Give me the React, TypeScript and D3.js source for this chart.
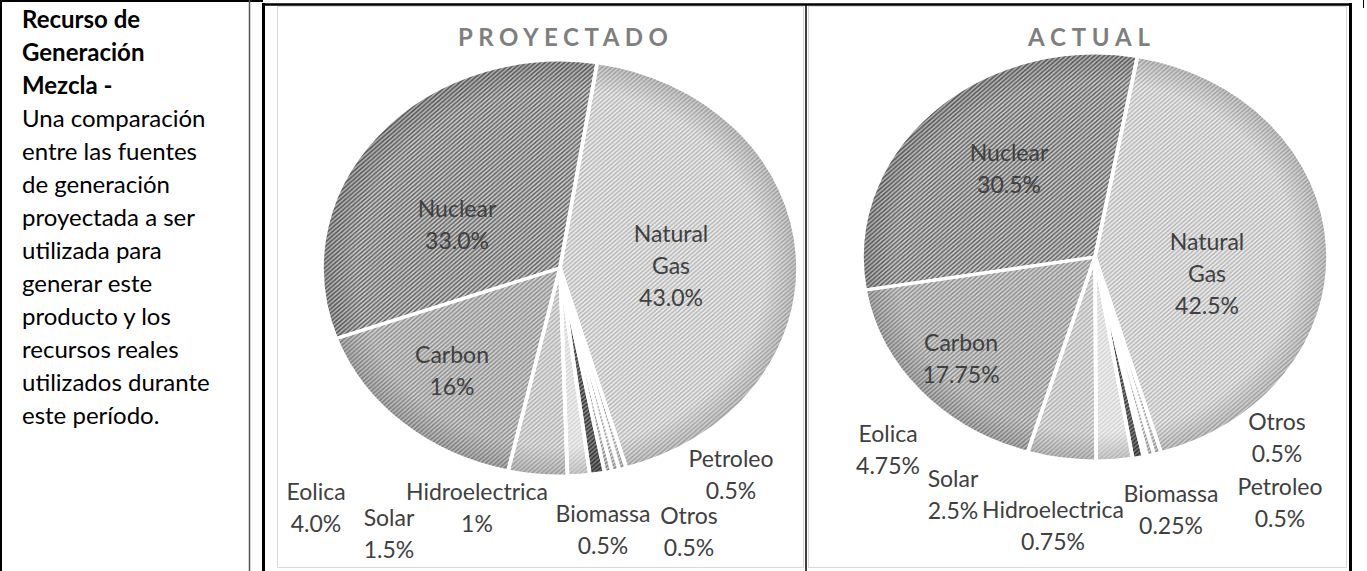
import * as d3 from 'd3'

// left column text
const headingLines = ['Recurso de', 'Generación', 'Mezcla -']
const bodyLines = [
  'Una comparación',
  'entre las fuentes',
  'de generación',
  'proyectada a ser',
  'utilizada para',
  'generar este',
  'producto y los',
  'recursos reales',
  'utilizados durante',
  'este período.',
]

// PROYECTADO
const projCategories = ['Natural Gas', 'Petroleo', 'Otros', 'Biomassa', 'Hidroelectrica', 'Solar', 'Eolica', 'Carbon', 'Nuclear']
const projValues = [43.0, 0.5, 0.5, 0.5, 1, 1.5, 4.0, 16, 33.0]
const projLabels = ['43.0%', '0.5%', '0.5%', '0.5%', '1%', '1.5%', '4.0%', '16%', '33.0%']

// ACTUAL
const actCategories = ['Natural Gas', 'Otros', 'Petroleo', 'Biomassa', 'Hidroelectrica', 'Solar', 'Eolica', 'Carbon', 'Nuclear']
const actValues = [42.5, 0.5, 0.5, 0.25, 0.75, 2.5, 4.75, 17.75, 30.5]
const actLabels = ['42.5%', '0.5%', '0.5%', '0.25%', '0.75%', '2.5%', '4.75%', '17.75%', '30.5%']

// pattern fills (background, stripe) per source
const fills = {
  'Natural Gas': ['#efefef', '#b4b4b4'],
  Petroleo: ['#f4f4f4', '#9a9a9a'],
  Otros: ['#f4f4f4', '#9a9a9a'],
  Biomassa: ['#eeeeee', '#8a8a8a'],
  Hidroelectrica: ['#8a8a8a', '#333333'],
  Solar: ['#f2f2f2', '#d2d2d2'],
  Eolica: ['#e6e6e6', '#b0b0b0'],
  Carbon: ['#d6d6d6', '#8c8c8c'],
  Nuclear: ['#cfcfcf', '#606060'],
}

// label placement relative to the pie centre: [centre x, first baseline]
const projLabelPos = {
  'Natural Gas': [111, -26], Petroleo: [171, 199], Otros: [129, 256], Biomassa: [43, 254],
  Hidroelectrica: [-83, 232], Solar: [-171, 258], Eolica: [-244, 232], Carbon: [-108, 95], Nuclear: [-103, -51],
}
const actLabelPos = {
  'Natural Gas': [112, -7], Otros: [182, 173], Petroleo: [185, 238], Biomassa: [76, 245],
  Hidroelectrica: [-42, 261], Solar: [-142, 230], Eolica: [-207, 185], Carbon: [-134, 94], Nuclear: [-86, -96],
}

const font = 'Lato, "Open Sans", sans-serif'
const labelColor = '#404040'

function Pie({ id, categories, values, labels, labelPos, cx, cy, r, sx, startDeg, title, titleX0, titleX1 }) {
  const start = (startDeg * Math.PI) / 180
  const pie = d3.pie().sort(null).value(d => d.value).startAngle(start).endAngle(start + 2 * Math.PI)
  const arcs = pie(categories.map((c, i) => ({ name: c, value: values[i], label: labels[i] })))
  const arc = d3.arc().innerRadius(0).outerRadius(r)
  const lh = 32

  return (
    <g>
      <text
        x={titleX0}
        y={46}
        textLength={titleX1 - titleX0}
        lengthAdjust="spacing"
        fontFamily={font}
        fontWeight="bold"
        fontSize={24}
        fill="#7f7f7f"
      >
        {title}
      </text>
      <g transform={`translate(${cx},${cy}) scale(${sx},1)`}>
        {arcs.map(a => (
          <path key={a.data.name} d={arc(a)} fill={`url(#${id}-pat-${categories.indexOf(a.data.name)})`} />
        ))}
        <circle r={r} fill={`url(#${id}-edge)`} />
        {arcs.map(a => (
          <path key={a.data.name + 'o'} d={arc(a)} fill="none" stroke="#fff" strokeWidth={3.2} strokeLinejoin="round" />
        ))}
      </g>
      <g transform={`translate(${cx},${cy})`} fontFamily={font} fontSize={23} fill={labelColor} textAnchor="middle">
        {arcs.map(a => {
          const lines = a.data.value >= 10 ? [...a.data.name.split(' '), a.data.label] : [a.data.name, a.data.label]
          const [px, py] = labelPos[a.data.name]
          return (
            <text key={a.data.name + 'l'} x={px} y={py}>
              {lines.map((t, k) => (
                <tspan key={k} x={px} y={py + k * lh}>{t}</tspan>
              ))}
            </text>
          )
        })}
      </g>
    </g>
  )
}

function Defs({ id, categories }) {
  return (
    <>
      {categories.map((c, i) => {
        const [bg, fg] = fills[c]
        return (
          <pattern key={c} id={`${id}-pat-${i}`} width={4.2} height={4.2} patternUnits="userSpaceOnUse">
            <rect width={4.2} height={4.2} fill={bg} />
            <path d="M-1,1 L1,-1 M0,4.2 L4.2,0 M3.2,5.2 L5.2,3.2" stroke={fg} strokeWidth={1.4} />
          </pattern>
        )
      })}
      <radialGradient id={`${id}-edge`} cx="0.5" cy="0.5" r="0.5">
        <stop offset="0.86" stopColor="#000" stopOpacity={0} />
        <stop offset="1" stopColor="#000" stopOpacity={0.16} />
      </radialGradient>
    </>
  )
}

export default function App() {
  const lineGap = 33
  return (
    <svg
      width={1367}
      height={571}
      style={{ position: 'absolute', left: 0, top: 0, background: '#fff' }}
    >
      <defs>
        <Defs id="p" categories={projCategories} />
        <Defs id="a" categories={actCategories} />
      </defs>

      {/* table borders */}
      <line x1={1} x2={1} y1={0} y2={571} stroke="#000" strokeWidth={2} />
      <line x1={0} x2={263} y1={1} y2={1} stroke="#000" strokeWidth={2} />
      <line x1={263} x2={1352} y1={4.5} y2={4.5} stroke="#000" strokeWidth={2.5} />
      <line x1={249.5} x2={249.5} y1={0} y2={571} stroke="#555" strokeWidth={1.5} />
      <line x1={263.5} x2={263.5} y1={3} y2={571} stroke="#000" strokeWidth={3} />
      <rect x={277.5} y={6.5} width={526} height={561} fill="none" stroke="#d9d9d9" />
      <line x1={806} x2={806} y1={5} y2={571} stroke="#000" strokeWidth={1.5} />
      <rect x={808.5} y={6.5} width={538} height={561} fill="none" stroke="#d9d9d9" />
      <line x1={1350.5} x2={1350.5} y1={3} y2={571} stroke="#000" strokeWidth={3} />
      <line x1={1363.5} x2={1363.5} y1={0} y2={8} stroke="#000" strokeWidth={1} />

      {/* left description */}
      <g fontFamily={font} fontSize={24} fill="#000">
        {headingLines.map((t, i) => (
          <text key={t} x={22} y={28 + i * lineGap} fontWeight="bold">{t}</text>
        ))}
        {bodyLines.map((t, i) => (
          <text key={t} x={22} y={28 + (i + headingLines.length) * lineGap}>{t}</text>
        ))}
      </g>

      <Pie
        id="p"
        title="PROYECTADO"
        titleX0={458}
        titleX1={668}
        categories={projCategories}
        values={projValues}
        labels={projLabels}
        labelPos={projLabelPos}
        cx={560}
        cy={268}
        r={208}
        sx={1.144}
        startDeg={9}
      />
      <Pie
        id="a"
        title="ACTUAL"
        titleX0={1028}
        titleX1={1150}
        categories={actCategories}
        values={actValues}
        labels={actLabels}
        labelPos={actLabelPos}
        cx={1095}
        cy={257}
        r={204}
        sx={1.142}
        startDeg={10.5}
      />
    </svg>
  )
}
